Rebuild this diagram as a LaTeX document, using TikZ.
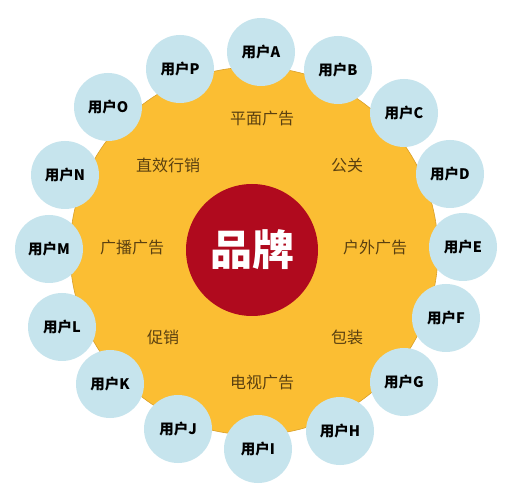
\documentclass[tikz,border=0pt]{standalone}
\usepackage{fontspec}
\setmainfont{Noto Sans CJK SC}
\usepackage{xcolor}
\usepackage{tikz}

\definecolor{ringorange}{HTML}{FBBE33}
\definecolor{ringedge}{HTML}{D9A02A}
\definecolor{userblue}{HTML}{C6E4ED}
\definecolor{brandred}{HTML}{B00A1E}
\definecolor{channeltext}{HTML}{5A4010}

\tikzset{
  user/.style={circle,fill=userblue,minimum size=68pt,inner sep=0pt,
    font=\fontsize{14.5}{14.5}\selectfont\bfseries,text=black},
  channel/.style={font=\fontsize{16}{16}\selectfont,text=channeltext},
}

\begin{document}
\begin{tikzpicture}[x=1pt,y=-1pt]
			\useasboundingbox (0,0) rectangle (515,500);
			\fill[white] (0,0) rectangle (515,500);
			% orange ring
			\filldraw[fill=ringorange,draw=ringedge,line width=0.6pt] (254,251) circle (184);
			% brand
			\node[circle,fill=brandred,minimum size=132pt,inner sep=0pt,
				text=white,font=\fontsize{42}{42}\selectfont\bfseries] (brand) at (252,250) {品牌};
			% channels
			\foreach \n/\x/\y/\t in {pm/262/118/平面广告,gg/347/165/公关,hw/375/247/户外广告,
				bz/347/337/包装,ds/262/382/电视广告,cx/163/337/促销,gb/132/247/广播广告,zx/168/165/直效行销}
				\node[channel] (\n) at (\x,\y) {\t};
			% users
			\foreach \n/\x/\y in {A/261/52,B/338/70,C/404/113,D/450/174,E/463/247,F/446/318,
				G/404/382,H/340/431,I/258/449,J/178/429,K/110/384,L/62/327,M/49/249,N/65/175,
				O/108/107,P/180/69}
				\node[user] (user\n) at (\x,\y) {用户\n};
		\end{tikzpicture}
\end{document}
